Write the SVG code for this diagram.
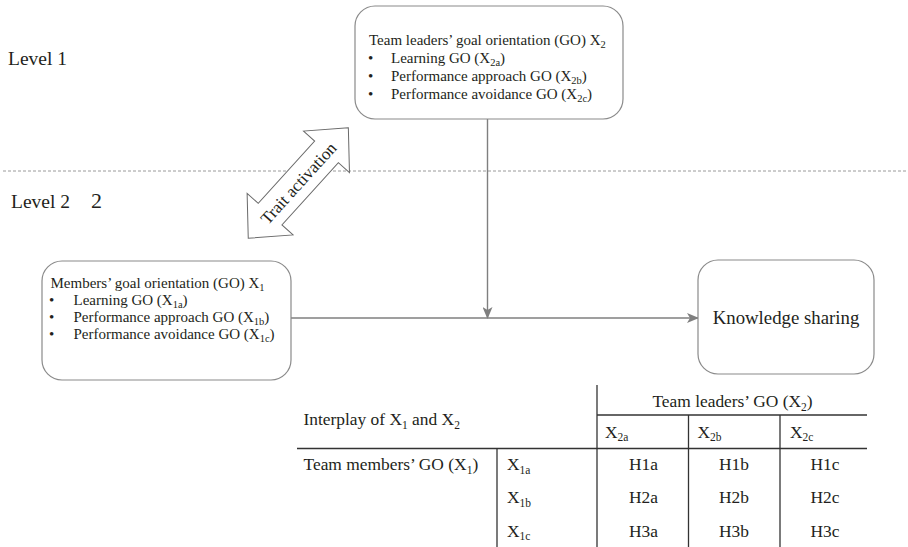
<svg xmlns="http://www.w3.org/2000/svg" width="908" height="547" viewBox="0 0 908 547">
<style>
text{font-family:"Liberation Serif","Times New Roman",serif;fill:#231f20}
.t15{font-size:15px}
.t16{font-size:17.4px}
.lvl{font-size:19.5px}
.sub{font-size:10.5px}
.sub2{font-size:11.5px}
.box{fill:#fff;stroke:#8a8a8a;stroke-width:1.2}
.conn{fill:none;stroke:#7f7f7f;stroke-width:1.4}
.tbl{stroke:#333;stroke-width:1.3}
</style>
<defs>
<marker id="ah" viewBox="0 0 12 10" refX="11" refY="5" markerWidth="12" markerHeight="10" markerUnits="userSpaceOnUse" orient="auto">
<path d="M0,0 L12,5 L0,10 L3,5 z" fill="#7f7f7f"/>
</marker>
</defs>
<rect width="908" height="547" fill="#fff"/>

<g id="levels">
<text class="lvl" x="8" y="65">Level 1</text>
<text class="lvl" x="11" y="208">Level 2</text>
<text x="91" y="208" style="font-size:22px">2</text>
<line x1="3" y1="171" x2="908" y2="171" stroke="#9a9a9a" stroke-width="1" stroke-dasharray="3,2"/>
</g>

<g id="trait-activation">
<g transform="translate(298.3,183) rotate(-47.8)">
<polygon points="74.5,0 42,-31 42,-16 -42,-16 -42,-31 -74.5,0 -42,31 -42,16 42,16 42,31" fill="#fff" stroke="#6a6a6a" stroke-width="1"/>
<text x="0" y="6" text-anchor="middle" style="font-size:17px">Trait activation</text>
</g>
</g>

<g id="connectors">
<line class="conn" x1="487.5" y1="119" x2="487.5" y2="318" marker-end="url(#ah)"/>
<line class="conn" x1="291" y1="318" x2="698" y2="318" marker-end="url(#ah)"/>
</g>

<g id="leaders-go">
<rect class="box" x="355" y="6" width="268" height="113" rx="20"/>
<text class="t15" x="369" y="45">Team leaders’ goal orientation (GO) X<tspan class="sub" dy="3">2</tspan></text>
<text class="t15" x="368" y="63">•</text>
<text class="t15" x="391" y="63">Learning GO (X<tspan class="sub" dy="3">2a</tspan><tspan dy="-3">)</tspan></text>
<text class="t15" x="368" y="81">•</text>
<text class="t15" x="391" y="81">Performance approach GO (X<tspan class="sub" dy="3">2b</tspan><tspan dy="-3">)</tspan></text>
<text class="t15" x="368" y="98.5">•</text>
<text class="t15" x="391" y="98.5">Performance avoidance GO (X<tspan class="sub" dy="3">2c</tspan><tspan dy="-3">)</tspan></text>
</g>

<g id="members-go">
<rect class="box" x="42" y="261" width="249" height="119" rx="20"/>
<text class="t15" x="50.5" y="287.5">Members’ goal orientation (GO) X<tspan class="sub" dy="3">1</tspan></text>
<text class="t15" x="49" y="305">•</text>
<text class="t15" x="73.5" y="305">Learning GO (X<tspan class="sub" dy="3">1a</tspan><tspan dy="-3">)</tspan></text>
<text class="t15" x="49" y="322">•</text>
<text class="t15" x="73.5" y="322">Performance approach GO (X<tspan class="sub" dy="3">1b</tspan><tspan dy="-3">)</tspan></text>
<text class="t15" x="49" y="339">•</text>
<text class="t15" x="73.5" y="339">Performance avoidance GO (X<tspan class="sub" dy="3">1c</tspan><tspan dy="-3">)</tspan></text>
</g>

<g id="knowledge-sharing">
<rect class="box" x="698" y="260" width="176" height="114" rx="20"/>
<text x="786" y="324" text-anchor="middle" style="font-size:18.8px">Knowledge sharing</text>
</g>

<g id="table">
<line class="tbl" x1="597" y1="385" x2="597" y2="547"/>
<line class="tbl" x1="597" y1="415" x2="867" y2="415"/>
<line class="tbl" x1="297" y1="448.5" x2="867" y2="448.5"/>
<line class="tbl" x1="497" y1="448.5" x2="497" y2="547"/>
<line class="tbl" x1="688.5" y1="415" x2="688.5" y2="547"/>
<line class="tbl" x1="780" y1="415" x2="780" y2="547"/>
<text class="t16" x="303.5" y="425">Interplay of X<tspan class="sub2" dy="3.5">1</tspan><tspan dy="-3.5"> and X</tspan><tspan class="sub2" dy="3.5">2</tspan></text>
<text class="t16" x="732.5" y="407" text-anchor="middle">Team leaders’ GO (X<tspan class="sub2" dy="3.5">2</tspan><tspan dy="-3.5">)</tspan></text>
<text class="t16" x="605" y="437.5">X<tspan class="sub2" dy="3.5">2a</tspan></text>
<text class="t16" x="697.5" y="437.5">X<tspan class="sub2" dy="3.5">2b</tspan></text>
<text class="t16" x="790" y="437.5">X<tspan class="sub2" dy="3.5">2c</tspan></text>
<text class="t16" x="303.5" y="470">Team members’ GO (X<tspan class="sub2" dy="3.5">1</tspan><tspan dy="-3.5">)</tspan></text>
<text class="t16" x="507" y="470">X<tspan class="sub2" dy="3.5">1a</tspan></text>
<text class="t16" x="507" y="503">X<tspan class="sub2" dy="3.5">1b</tspan></text>
<text class="t16" x="507" y="536.5">X<tspan class="sub2" dy="3.5">1c</tspan></text>
<text class="t16" x="643.5" y="470" text-anchor="middle">H1a</text>
<text class="t16" x="734" y="470" text-anchor="middle">H1b</text>
<text class="t16" x="825" y="470" text-anchor="middle">H1c</text>
<text class="t16" x="643.5" y="503" text-anchor="middle">H2a</text>
<text class="t16" x="734" y="503" text-anchor="middle">H2b</text>
<text class="t16" x="825" y="503" text-anchor="middle">H2c</text>
<text class="t16" x="643.5" y="536.5" text-anchor="middle">H3a</text>
<text class="t16" x="734" y="536.5" text-anchor="middle">H3b</text>
<text class="t16" x="825" y="536.5" text-anchor="middle">H3c</text>
</g>
</svg>
